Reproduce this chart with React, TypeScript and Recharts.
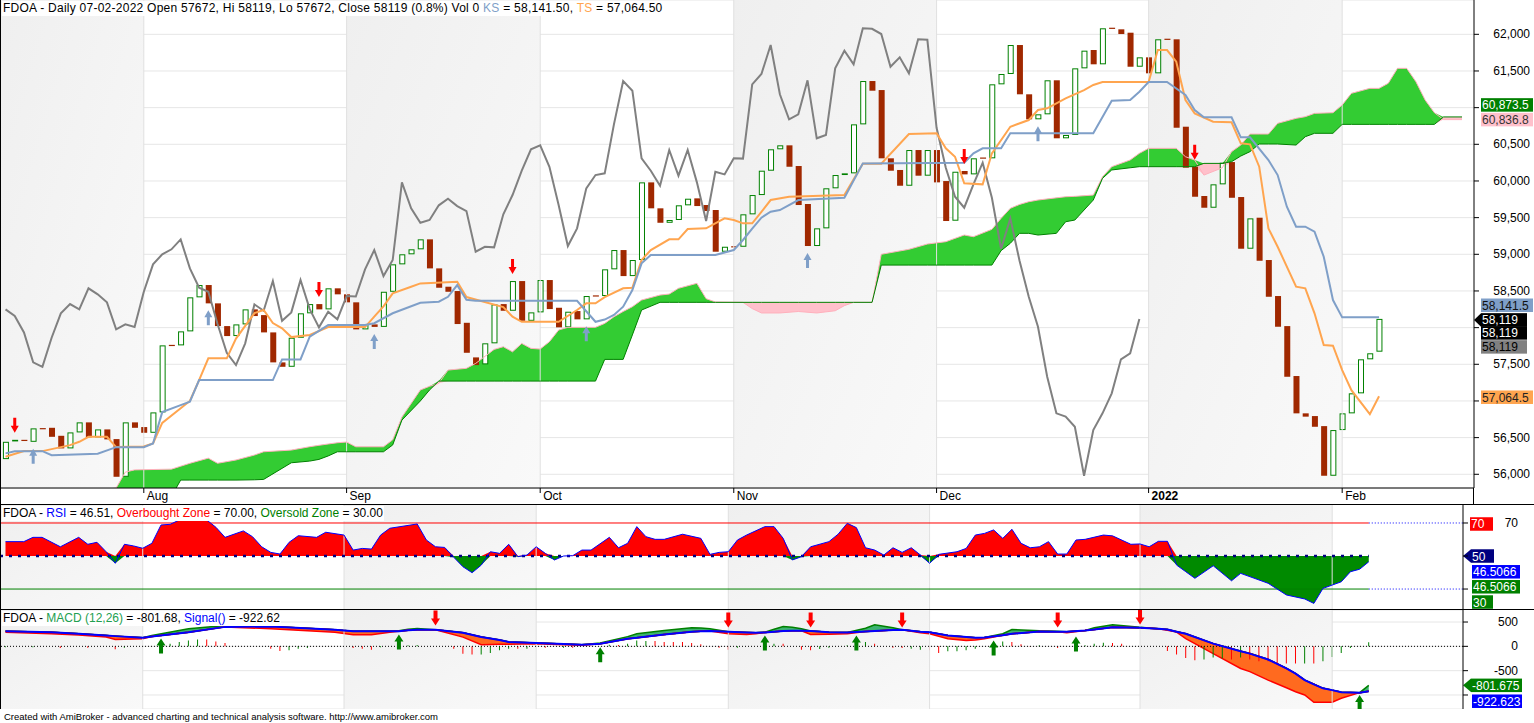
import React from 'react';
import {
  ComposedChart, Bar, Line, Area, Scatter, XAxis, YAxis, CartesianGrid,
  ReferenceArea, ReferenceLine, Cell,
} from 'recharts';

// ── Bars / calendar ────────────────────────────────────────────────────────────
const X_DOMAIN: [number, number] = [-0.6, 159.3];
const MONTH_TICKS = [15, 37, 58, 79, 101, 124, 145];
const MONTH_LABELS = ['Aug', 'Sep', 'Oct', 'Nov', 'Dec', '2022', 'Feb'];
const SHADED: [number, number][] = [[-0.6, 15], [37, 58], [79, 101], [124, 145]];

// ── Price (one value per bar, Jul 12 2021 → Feb 07 2022) ───────────────────────
const opens = [
  56207, 56450, 56470, 56443, 56630, 56634, 56525, 56353, 56571, 56708,
  56503, 56612, 56480, 55966, 56708, 56644, 56566, 56844, 57765, 57758,
  57949, 58413, 58581, 58331, 58021, 57885, 58044, 58249, 58171, 57935,
  57526, 57466, 57862, 58195, 58321, 58249, 58536, 58454, 58345, 57976,
  58044, 58010, 58489, 58863, 59000, 59068, 59204, 58808, 58558, 58499,
  58066, 57594, 57499, 57786, 58321, 58230, 58635, 58093, 58208, 58649,
  58271, 58004, 58226, 58113, 58440, 58431, 58795, 59058, 58703, 58922,
  59981, 59627, 59430, 59468, 59668, 59763, 59672, 59604, 59035, 59110,
  59103, 59545, 59808, 60140, 60432, 60486, 60204, 59686, 59113, 59354,
  59900, 60081, 60104, 60772, 61363, 61240, 60309, 60150, 59935, 60422,
  60072, 60422, 59999, 59458, 60136, 60090, 60320, 60309, 61318, 61459,
  61854, 61182, 60841, 60909, 61373, 60582, 60627, 61536, 61786, 61591,
  62090, 62068, 62022, 61558, 61686, 61468, 61940, 61932, 60740, 60195,
  59795, 59635, 59954, 60258, 59781, 59076, 59499, 58922, 58431, 58021,
  57340, 56831, 56794, 56657, 55980, 56603, 56831, 57104, 57568, 57672,
];
const closes = [
  56443, 56470, 56455, 56626, 56615, 56511, 56353, 56571, 56708, 56503,
  56612, 56476, 55966, 56708, 56634, 56566, 56844, 57758, 57750, 57949,
  58413, 58581, 58331, 58021, 57885, 58044, 58249, 58158, 57935, 57526,
  57466, 57862, 58195, 58321, 58249, 58536, 58454, 58345, 57976, 58044,
  58010, 58489, 58863, 59000, 59068, 59204, 58808, 58544, 58489, 58049,
  57657, 57489, 57786, 58317, 58230, 58635, 58093, 58208, 58649, 58253,
  58004, 58217, 58113, 58431, 58425, 58795, 59058, 58703, 58922, 59981,
  59627, 59430, 59468, 59668, 59758, 59658, 59590, 59035, 59103, 59095,
  59545, 59808, 60140, 60432, 60486, 60194, 59672, 59113, 59354, 59900,
  60081, 60104, 60772, 61363, 61231, 60309, 60140, 59935, 60422, 60072,
  60422, 59981, 59454, 60126, 60090, 60309, 60305, 61318, 61459, 61854,
  61182, 60841, 60909, 61373, 60582, 60627, 61536, 61777, 61591, 62082,
  62075, 62004, 61558, 61686, 61468, 61932, 61925, 60726, 60181, 59785,
  59635, 59954, 60249, 59771, 59076, 59490, 58912, 58421, 58012, 57330,
  56831, 56786, 56648, 55980, 56603, 56831, 57104, 57568, 57650, 58119,
];

// Tenkan-sen (TS) and Kijun-sen (KS) read at their turning points: [bar, value]
const tenkan: [number, number][] = [
  [0, 56239], [2, 56316], [4, 56316], [7, 56398], [8, 56443], [9, 56511], [11, 56511], [12, 56371],
  [15, 56380], [16, 56420], [17, 56700], [19, 56900], [20, 57000], [21, 57285], [22, 57581], [24, 57581],
  [25, 57850], [27, 58198], [28, 58240], [29, 58062], [30, 57990], [31, 57871], [33, 57899], [35, 58008],
  [39, 58008], [40, 58150], [41, 58290], [42, 58468], [44, 58557], [45, 58603], [49, 58626], [50, 58417],
  [54, 58280], [55, 58149], [56, 58080], [60, 58080], [62, 58240], [63, 58331], [64, 58331], [65, 58417],
  [67, 58536], [68, 58544], [69, 58922], [70, 59058], [72, 59204], [73, 59204], [74, 59345], [76, 59354],
  [78, 59490], [79, 59467], [80, 59422], [81, 59422], [82, 59580], [83, 59740], [85, 59785], [91, 59808],
  [93, 60236], [95, 60236], [98, 60640], [101, 60650], [102, 60445], [103, 60331], [104, 59968], [106, 59954],
  [107, 60377], [109, 60740], [111, 60831], [112, 60968], [113, 60991], [115, 61127], [117, 61240], [118, 61309],
  [119, 61350], [124, 61350], [125, 61786], [126, 61786], [127, 61627], [128, 61104], [129, 60922], [131, 60808],
  [133, 60800], [134, 60513], [135, 60500], [136, 60195], [137, 59354], [138, 59103], [140, 58558], [141, 58536],
  [142, 58195], [143, 57762], [144, 57753], [145, 57421], [146, 57148], [148, 56821], [149, 57064.5],
];
const kijun: [number, number][] = [
  [0, 56285], [1, 56315], [4, 56315], [5, 56260], [10, 56280], [12, 56370], [15, 56370], [16, 56420],
  [17, 56848], [19, 56944], [20, 56990], [21, 57285], [29, 57285], [30, 57567], [32, 57567], [33, 57876],
  [35, 58035], [39, 58035], [40, 58060], [42, 58196], [45, 58340], [47, 58354], [48, 58420], [49, 58580],
  [50, 58380], [51, 58365], [62, 58365], [64, 58080], [65, 58110], [66, 58172], [67, 58285], [68, 58512],
  [69, 58877], [70, 58990], [77, 58990], [79, 59058], [80, 59195], [81, 59350], [82, 59500], [83, 59580],
  [84, 59604], [86, 59740], [91, 59771], [93, 60240], [104, 60249], [105, 60377], [106, 60445], [108, 60445],
  [109, 60650], [118, 60650], [120, 61094], [122, 61104], [123, 61217], [124, 61350], [126, 61350], [128, 61172],
  [129, 60968], [130, 60868], [133, 60868], [134, 60595], [135, 60595], [137, 60286], [138, 60081], [139, 59649],
  [140, 59376], [141, 59376], [142, 59308], [143, 58967], [144, 58376], [145, 58140], [149, 58141.5],
];
// Cloud: [bar, senkou span A, senkou span B]
const cloud: [number, number, number][] = [
  [0, 55600, 55500], [12, 55813, 55600], [13, 56030, 55650], [14, 56060, 55680], [18, 56070, 55700],
  [19, 56110, 55921], [20, 56150, 55921], [22, 56220, 55921], [23, 56150, 55921], [25, 56195, 55921],
  [27, 56262, 55925], [28, 56307, 55930], [31, 56330, 56157], [33, 56376, 56180], [34, 56395, 56203],
  [35, 56413, 56250], [36, 56430, 56307], [37, 56440, 56307], [38, 56375, 56307], [41, 56375, 56307],
  [42, 56470, 56400], [43, 56780, 56739], [45, 57150, 57000], [46, 57200, 57150], [47, 57240, 57271],
  [48, 57421, 57271], [50, 57445, 57271], [51, 57512, 57271], [53, 57703, 57271], [54, 57740, 57271],
  [55, 57670, 57271], [56, 57785, 57271], [57, 57717, 57271], [58, 57708, 57271], [59, 57808, 57271],
  [60, 57967, 57271], [61, 58004, 57271], [64, 58004, 57271], [65, 58058, 57567], [66, 58148, 57567],
  [67, 58220, 57567], [68, 58285, 57900], [69, 58376, 58240], [71, 58444, 58345], [72, 58458, 58345],
  [73, 58536, 58345], [75, 58604, 58345], [76, 58395, 58345], [77, 58350, 58345], [80, 58345, 58345],
  [81, 58260, 58345], [82, 58200, 58345], [84, 58200, 58345], [86, 58220, 58345], [88, 58200, 58345],
  [90, 58230, 58345], [91, 58300, 58345], [92, 58345, 58345], [94, 58345, 58345], [95, 59000, 58853],
  [98, 59068, 58853], [100, 59140, 58853], [102, 59172, 58853], [104, 59263, 58853], [105, 59240, 58853],
  [107, 59340, 58853], [108, 59490, 59050], [109, 59627, 59150], [110, 59680, 59286], [111, 59717, 59286],
  [112, 59740, 59263], [114, 59770, 59286], [115, 59785, 59444], [116, 59790, 59467], [118, 59808, 59740],
  [119, 60058, 60036], [120, 60195, 60150], [122, 60286, 60180], [123, 60377, 60195], [124, 60445, 60195],
  [127, 60445, 60195], [128, 60331, 60195], [129, 60286, 60195], [130, 60080, 60240], [132, 60180, 60240],
  [133, 60400, 60263], [134, 60490, 60340], [135, 60640, 60400], [136, 60640, 60504], [137, 60640, 60504],
  [138, 60786, 60504], [140, 60854, 60490], [141, 60877, 60604], [142, 60922, 60650], [144, 60931, 60650],
  [145, 61036, 60772], [146, 61195, 60772], [148, 61263, 60772], [149, 61263, 60772], [150, 61332, 60772],
  [151, 61536, 60772], [152, 61536, 60772], [153, 61354, 60772], [154, 61104, 60772], [155, 60931, 60772],
  [156, 60836.8, 60873.5], [158, 60836.8, 60873.5],
];
const sellBars = [1, 34, 55, 104, 129];
const buyBars = [3, 22, 40, 63, 87, 112];

// ── RSI: [bar, value] ─────────────────────────────────────────────────────────
const rsi: [number, number][] = [
  [0, 58.7], [2, 58.7], [3, 61.3], [4, 61.3], [6, 55.6], [8, 61.3], [9, 57.1], [10, 58.3], [11, 52.6],
  [12, 45.6], [13, 57.1], [14, 56.1], [15, 54.7], [16, 57.7], [17, 68.8], [18, 69.2], [19, 71.8], [22, 71.8],
  [23, 67.4], [24, 61.3], [26, 65.2], [27, 61.7], [28, 55.6], [29, 52.2], [30, 51.2], [31, 58.3], [32, 62.3],
  [34, 61.3], [35, 64.4], [37, 62.7], [38, 53.6], [39, 54.6], [40, 54.2], [41, 62.7], [42, 66.8], [45, 69.4],
  [46, 59.7], [47, 55.6], [48, 55.2], [49, 49.2], [50, 43.5], [51, 39.9], [52, 44.5], [53, 52.6], [54, 51.6],
  [55, 57.1], [56, 49.6], [57, 50.6], [58, 55.6], [59, 51.6], [60, 47.6], [61, 50], [62, 50.2], [63, 53.6],
  [64, 53.6], [66, 61.3], [67, 55], [68, 57.7], [69, 67.8], [70, 61.7], [71, 60.1], [72, 60.1], [74, 63.2],
  [76, 60.7], [77, 51], [78, 52.2], [79, 52.6], [80, 59.7], [81, 62.7], [83, 67.8], [84, 67.8], [85, 60.7],
  [86, 47.6], [87, 49.6], [88, 55.6], [90, 58.7], [91, 63.2], [92, 69.8], [93, 67.2], [94, 55], [95, 53.6],
  [96, 50.6], [97, 55], [98, 52.2], [99, 55], [100, 50.6], [101, 45.6], [102, 51], [104, 52.6], [105, 54.6],
  [106, 62.7], [107, 63.7], [108, 65.8], [109, 60.7], [110, 66.2], [111, 57.7], [112, 55], [113, 55.6],
  [114, 58.7], [115, 51.2], [116, 51.2], [117, 59.7], [118, 60.1], [120, 62.7], [121, 62.2], [123, 57.1],
  [124, 57.3], [125, 55.6], [126, 58.9], [127, 58.9], [128, 44.5], [129, 40.5], [130, 36.5], [132, 44.1],
  [134, 35], [135, 39.5], [138, 33.5], [140, 26.4], [142, 24], [143, 21.3], [144, 30.4], [146, 34.4],
  [147, 40.5], [148, 42], [149, 46.5066],
];

// ── MACD: [bar, macd, signal] ────────────────────────────────────────────────
const macd: [number, number, number][] = [
  [0, 292, 312], [5, 259, 292], [8, 235, 259], [11, 190, 224], [12, 143, 210], [15, 157, 177], [16, 224, 204],
  [20, 361, 292], [24, 430, 400], [29, 361, 408], [36, 292, 340], [38, 239, 312], [40, 239, 312], [42, 290, 312],
  [43, 320, 312], [44, 350, 330], [45, 367, 340], [47, 340, 340], [50, 190, 280], [52, 35, 190], [54, 41, 130],
  [55, 45, 88], [58, 55, 68], [61, 35, 50], [63, 20, 35], [65, 67, 55], [68, 200, 157], [69, 259, 175],
  [72, 326, 245], [75, 381, 300], [76, 375, 312], [77, 361, 315], [79, 259, 300], [81, 245, 285], [82, 260, 279],
  [83, 292, 285], [84, 350, 300], [85, 408, 315], [86, 390, 320], [87, 361, 320], [88, 245, 315], [90, 250, 290],
  [92, 259, 286], [94, 373, 305], [95, 443, 315], [96, 414, 328], [97, 380, 338], [98, 340, 340], [100, 280, 300],
  [101, 259, 290], [103, 157, 224], [105, 122, 190], [106, 130, 177], [107, 157, 180], [109, 259, 230],
  [110, 347, 259], [113, 320, 306], [115, 312, 300], [116, 279, 300], [118, 326, 326], [119, 380, 345],
  [121, 443, 394], [124, 394, 381], [126, 361, 360], [127, 330, 345], [128, 292, 300], [129, 157, 259],
  [132, -149, 55], [135, -455, -100], [136, -520, -149], [138, -694, -271], [140, -850, -455], [141, -932, -560],
  [142, -1000, -694], [143, -1149, -780], [144, -1149, -863], [145, -1149, -900], [146, -1067, -945],
  [148, -952, -952], [149, -801.675, -922.623],
];
const hist: [number, number, string][] = [
  [0, -20, 'g'], [3, -20, 'g'], [6, -34, 'r'], [9, -30, 'r'], [12, -60, 'r'], [13, -30, 'g'], [18, 55, 'g'],
  [19, 88, 'g'], [20, 122, 'g'], [21, 143, 'g'], [22, 143, 'r'], [23, 102, 'r'], [24, 68, 'r'], [29, -48, 'r'],
  [30, -96, 'r'], [31, -82, 'g'], [32, -48, 'g'], [33, -34, 'g'], [38, -34, 'r'], [39, -48, 'r'], [40, -68, 'r'],
  [41, -20, 'g'], [44, 20, 'g'], [45, 30, 'g'], [49, -48, 'r'], [50, -150, 'r'], [51, -170, 'r'], [52, -170, 'g'],
  [53, -136, 'g'], [54, -82, 'g'], [55, -48, 'g'], [56, -48, 'r'], [57, -48, 'g'], [59, -27, 'r'], [61, -27, 'g'],
  [62, -27, 'r'], [66, 34, 'g'], [67, 27, 'r'], [68, 55, 'g'], [69, 122, 'g'], [70, 109, 'g'], [71, 109, 'r'],
  [72, 88, 'r'], [73, 88, 'r'], [74, 88, 'r'], [75, 68, 'r'], [76, 41, 'r'], [78, -27, 'r'], [79, -68, 'r'],
  [80, -27, 'g'], [83, 34, 'g'], [84, 55, 'g'], [85, 55, 'r'], [87, -68, 'r'], [88, -82, 'r'], [89, -55, 'g'],
  [90, -27, 'g'], [92, 20, 'g'], [93, 68, 'g'], [94, 88, 'g'], [95, 55, 'r'], [97, -27, 'r'], [98, -34, 'r'],
  [99, -48, 'g'], [100, -68, 'g'], [101, -82, 'r'], [102, -136, 'r'], [103, -102, 'g'], [104, -102, 'g'],
  [105, -82, 'g'], [106, -48, 'g'], [108, 55, 'g'], [109, 102, 'g'], [110, 88, 'r'], [111, 41, 'r'],
  [112, -10, 'r'], [113, 20, 'g'], [115, -34, 'r'], [118, 20, 'g'], [119, 55, 'g'], [120, 75, 'g'], [121, 68, 'r'],
  [122, 55, 'r'], [127, -96, 'r'], [128, -170, 'r'], [129, -238, 'r'], [130, -286, 'r'], [131, -272, 'g'],
  [132, -231, 'g'], [133, -252, 'g'], [134, -272, 'r'], [135, -231, 'g'], [136, -272, 'r'], [137, -306, 'r'],
  [138, -306, 'r'], [139, -354, 'r'], [140, -354, 'r'], [141, -354, 'r'], [142, -354, 'g'], [143, -354, 'r'],
  [144, -306, 'g'], [145, -218, 'g'], [146, -136, 'g'], [147, -34, 'g'], [149, 82, 'g'],
];
const macdBuys: [number, number][] = [[17, 163], [43, 245], [65, -20], [83, 224], [93, 224], [108, 122], [117, 204], [148, -1000]];
const macdSells: [number, number][] = [[47, 428], [79, 388], [88, 388], [98, 388], [115, 388], [124, 449]];

const PRICE_TICKS = [56000, 56500, 57000, 57500, 58000, 58500, 59000, 59500, 60000, 60500, 61000, 61500, 62000];

// ── Colours ───────────────────────────────────────────────────────────────────
const UP = '#008000';
const DOWN = '#a02800';
const TS_COL = '#ffa54f';
const KS_COL = '#7f9fc8';
const CHIKOU = '#808080';
const CLOUD_UP = '#33cc33';
const CLOUD_DN = '#ffc0cb';
const GRID = '#e6e6e6';
const SEP = '#e0e0e0';

// ── Derived rows ──────────────────────────────────────────────────────────────
const candleRows = opens.map((o, i) => ({ i, open: o, close: closes[i] }));
const chikouRows = closes.slice(26).map((c, i) => ({ i, v: c }));
const tenkanRows = tenkan.map(([i, v]) => ({ i, v }));
const kijunRows = kijun.map(([i, v]) => ({ i, v }));
const cloudRows = cloud.map(([i, a, b]) => ({ i, a, b }));
const rsiRows = rsi.map(([i, v]) => ({ i, v }));
const macdRows = macd.map(([i, m, s]) => ({ i, m, s }));
const histRows = hist.map(([i, v, c]) => ({ i, v, c }));
const sellRows = sellBars.map((i) => ({ i, v: Math.max(opens[i], closes[i]) }));
const buyRows = buyBars.map((i) => ({ i, v: Math.min(opens[i], closes[i]) }));
const macdBuyRows = macdBuys.map(([i, v]) => ({ i, v }));
const macdSellRows = macdSells.map(([i, v]) => ({ i, v }));

const fmt1 = (v: number) => v.toLocaleString('en-US', { maximumFractionDigits: 1 });
const lastCloud = cloudRows[cloudRows.length - 1];
const lastKijun = kijunRows[kijunRows.length - 1].v;
const lastTenkan = tenkanRows[tenkanRows.length - 1].v;
const lastClose = closes[closes.length - 1];
const lastRsi = rsiRows[rsiRows.length - 1].v;
const lastMacd = macdRows[macdRows.length - 1];

// ── Small drawing helpers ─────────────────────────────────────────────────────
function Candle(props: any) {
  const { x, y, width, height, payload } = props;
  if (x == null || payload == null) return null;
  const top = Math.min(y, y + height);
  const h = Math.max(Math.abs(height), 1.2);
  if (payload.close >= payload.open) {
    return <rect x={x + 0.5} y={top + 0.5} width={width - 1} height={Math.max(h - 1, 0.6)} fill="#fff" stroke={UP} strokeWidth={1} />;
  }
  return <rect x={x} y={top} width={width} height={h} fill={DOWN} />;
}

function Arrow(props: any) {
  const { cx, cy, color, dir, gap = 0, len = 15, head = 7, hw = 4, sw = 1.5 } = props;
  if (cx == null || cy == null) return null;
  const s = dir === 'down' ? -1 : 1;
  const tip = cy + s * gap;
  const pts = [
    [cx, tip], [cx + hw, tip + s * head], [cx + sw, tip + s * head], [cx + sw, tip + s * len],
    [cx - sw, tip + s * len], [cx - sw, tip + s * head], [cx - hw, tip + s * head],
  ];
  return <polygon points={pts.map((p) => p.join(',')).join(' ')} fill={color} />;
}

function MonthTick(props: any) {
  const { x, y, payload } = props;
  const label = MONTH_LABELS[MONTH_TICKS.indexOf(payload.value)];
  return (
    <g>
      <line x1={x} x2={x} y1={y} y2={y + 5} stroke="#000" />
      <text x={x + 3} y={y + 12} fontSize={12} fill="#000" fontWeight={label === '2022' ? 'bold' : 'normal'}>{label}</text>
    </g>
  );
}

// values whose labels sit under a value tag are not written
function AxisTick(props: any) {
  const { x, y, payload, shift, format, covered = [] } = props;
  if (covered.includes(payload.value)) return null;
  return (
    <text x={x + shift} y={y + 4} textAnchor="end" fontSize={12} fill="#000">
      {format ? format(payload.value) : payload.value}
    </text>
  );
}

function Tag(props: any) {
  const { viewBox, text, bg, fg, dy = 0, w, arrow, gap = 7 } = props;
  if (!viewBox) return null;
  const x0 = viewBox.x + viewBox.width + gap;
  const cy = viewBox.y + dy;
  const h = 13.5;
  return (
    <g>
      {arrow && <polygon points={`${x0 - gap},${cy} ${x0},${cy - h / 2} ${x0},${cy + h / 2}`} fill={bg} />}
      <rect x={x0} y={cy - h / 2} width={w} height={h} fill={bg} />
      <text x={x0 + 1} y={cy + 4.5} fontSize={12} fill={fg}>{text}</text>
    </g>
  );
}

function Backdrop(id: string) {
  return [
    <defs key="defs">
      <linearGradient id={id} x1="0" y1="0" x2="1" y2="1">
        <stop offset="0%" stopColor="#efefef" />
        <stop offset="100%" stopColor="#f9f9f9" />
      </linearGradient>
    </defs>,
    ...SHADED.map(([a, b]) => (
      <ReferenceArea key={`sh${a}`} x1={a} x2={b} fill={`url(#${id})`} fillOpacity={1} stroke="none" />
    )),
  ];
}

const M0 = { top: 0, right: 0, bottom: 0, left: 0 };

export default function App() {
  return (
    <div style={{ position: 'absolute', left: 0, top: 0, width: 1534, height: 723, background: '#fff', overflow: 'hidden', fontFamily: "'Liberation Sans', Arial, sans-serif" }}>
      {/* ── price pane ── */}
      <div style={{ position: 'absolute', left: 0, top: 0 }}>
        <ComposedChart width={1534} height={505} data={candleRows} margin={M0}>
          {Backdrop('shadeMain')}
          <CartesianGrid vertical={false} stroke={GRID} />
          {MONTH_TICKS.map((t) => <ReferenceLine key={`m${t}`} x={t} stroke={SEP} />)}
          <XAxis dataKey="i" type="number" domain={X_DOMAIN} allowDataOverflow ticks={MONTH_TICKS} interval={0}
            height={17} tickLine={false} tickSize={0} tickMargin={0} axisLine={{ stroke: '#000' }} tick={<MonthTick />} />
          <YAxis orientation="right" width={60} domain={[55813, 62468]} allowDataOverflow ticks={PRICE_TICKS} interval={0}
            tickSize={5} tickMargin={2} tickLine={{ stroke: '#000' }} axisLine={{ stroke: '#000' }}
            tick={<AxisTick shift={49} covered={[61000, 58000, 57000]} format={(v: number) => v.toLocaleString('en-US')} />} />
          <Area data={cloudRows} dataKey={(r: any) => [r.b, Math.max(r.a, r.b)]} type="linear" fill={CLOUD_UP} fillOpacity={1} stroke="none" isAnimationActive={false} />
          <Area data={cloudRows} dataKey={(r: any) => [Math.min(r.a, r.b), r.b]} type="linear" fill={CLOUD_DN} fillOpacity={1} stroke="none" isAnimationActive={false} />
          <Line data={cloudRows} dataKey="a" type="linear" stroke="#ffb0bc" strokeWidth={1} dot={false} isAnimationActive={false} />
          <Line data={cloudRows} dataKey="b" type="linear" stroke={UP} strokeWidth={1} dot={false} isAnimationActive={false} />
          <Line data={chikouRows} dataKey="v" type="linear" stroke={CHIKOU} strokeWidth={2} dot={false} isAnimationActive={false} />
          <Line data={tenkanRows} dataKey="v" type="linear" stroke={TS_COL} strokeWidth={2} dot={false} isAnimationActive={false} />
          <Line data={kijunRows} dataKey="v" type="linear" stroke={KS_COL} strokeWidth={2} dot={false} isAnimationActive={false} />
          <Bar dataKey={(r: any) => [Math.min(r.open, r.close), Math.max(r.open, r.close)]} barSize={6} shape={<Candle />} isAnimationActive={false} />
          <Scatter data={sellRows} dataKey="v" shape={<Arrow dir="down" color="#ff0000" gap={7} />} isAnimationActive={false} />
          <Scatter data={buyRows} dataKey="v" shape={<Arrow dir="up" color={KS_COL} gap={7} />} isAnimationActive={false} />
          <ReferenceLine y={lastCloud.b} stroke="none" label={<Tag text={fmt1(lastCloud.b)} bg="#008000" fg="#fff" dy={-12} w={52} />} />
          <ReferenceLine y={lastCloud.a} stroke="none" label={<Tag text={fmt1(lastCloud.a)} bg={CLOUD_DN} fg="#333" dy={0} w={52} />} />
          <ReferenceLine y={lastKijun} stroke="none" label={<Tag text={fmt1(lastKijun)} bg={KS_COL} fg="#111" dy={-12} w={52} />} />
          <ReferenceLine y={lastClose} stroke="none" label={<Tag text={fmt1(lastClose)} bg="#000" fg="#fff" dy={1} w={46} arrow />} />
          <ReferenceLine y={lastClose + 0.01} stroke="none" label={<Tag text={fmt1(lastClose)} bg="#000" fg="#fff" dy={14} w={46} />} />
          <ReferenceLine y={lastClose + 0.02} stroke="none" label={<Tag text={fmt1(lastClose)} bg={CHIKOU} fg="#000" dy={28} w={46} />} />
          <ReferenceLine y={lastTenkan} stroke="none" label={<Tag text={fmt1(lastTenkan)} bg={TS_COL} fg="#222" dy={1} w={52} />} />
        </ComposedChart>
      </div>

      {/* ── RSI pane ── */}
      <div style={{ position: 'absolute', left: 0, top: 505 }}>
        <ComposedChart width={1534} height={105} data={rsiRows} margin={M0}>
          {Backdrop('shadeRsi')}
          {MONTH_TICKS.map((t) => <ReferenceLine key={`m${t}`} x={t} stroke={SEP} />)}
          <XAxis dataKey="i" type="number" domain={X_DOMAIN} allowDataOverflow hide />
          <YAxis orientation="right" width={71} domain={[17.3, 80.9]} allowDataOverflow ticks={[30, 50, 70]} interval={0}
            tickSize={5} tickMargin={2} tickLine={{ stroke: '#000' }} axisLine={{ stroke: '#000' }} tick={<AxisTick shift={48} covered={[30, 50]} />} />
          <Area dataKey={(r: any) => [50, Math.max(r.v, 50)]} type="linear" fill="#ff0000" fillOpacity={1} stroke="none" isAnimationActive={false} />
          <Area dataKey={(r: any) => [Math.min(r.v, 50), 50]} type="linear" fill="#008a00" fillOpacity={1} stroke="none" isAnimationActive={false} />
          <ReferenceLine segment={[{ x: X_DOMAIN[0], y: 70 }, { x: 149, y: 70 }]} stroke="#ff0000" />
          <ReferenceLine segment={[{ x: 149, y: 70 }, { x: X_DOMAIN[1], y: 70 }]} stroke="#0000ff" strokeDasharray="1 2" />
          <ReferenceLine segment={[{ x: X_DOMAIN[0], y: 30 }, { x: 149, y: 30 }]} stroke="#008000" />
          <ReferenceLine segment={[{ x: 149, y: 30 }, { x: X_DOMAIN[1], y: 30 }]} stroke="#0000ff" strokeDasharray="1 2" />
          <ReferenceLine segment={[{ x: X_DOMAIN[0], y: 50 }, { x: 149, y: 50 }]} stroke="#000080" strokeWidth={2.5} strokeDasharray="3 6" />
          <Line dataKey="v" type="linear" stroke="#0000ff" strokeWidth={1} dot={false} isAnimationActive={false} />
          <ReferenceLine y={70} stroke="none" label={<Tag text="70" bg="#ff0000" fg="#fff" dy={1} w={23} />} />
          <ReferenceLine y={50} stroke="none" label={<Tag text="50" bg="#000080" fg="#fff" dy={0} w={23} gap={8} arrow />} />
          <ReferenceLine y={lastRsi} stroke="none" label={<Tag text={String(lastRsi)} bg="#0000ff" fg="#fff" dy={10} w={48} gap={9} />} />
          <ReferenceLine y={lastRsi + 0.001} stroke="none" label={<Tag text={String(lastRsi)} bg="#008000" fg="#fff" dy={25} w={48} gap={9} />} />
          <ReferenceLine y={30} stroke="none" label={<Tag text="30" bg="#008000" fg="#fff" dy={13} w={21} gap={9} />} />
        </ComposedChart>
      </div>

      {/* ── MACD pane ── */}
      <div style={{ position: 'absolute', left: 0, top: 610 }}>
        <ComposedChart width={1534} height={99} data={histRows} margin={M0}>
          {Backdrop('shadeMacd')}
          <CartesianGrid vertical={false} stroke={GRID} />
          {MONTH_TICKS.map((t) => <ReferenceLine key={`m${t}`} x={t} stroke={SEP} />)}
          <XAxis dataKey="i" type="number" domain={X_DOMAIN} allowDataOverflow hide />
          <YAxis orientation="right" width={71} domain={[-1288, 747]} allowDataOverflow ticks={[-1000, -500, 0, 500]} interval={0}
            tickSize={5} tickMargin={2} tickLine={{ stroke: '#000' }} axisLine={{ stroke: '#000' }} tick={<AxisTick shift={48} covered={[-1000]} />} />
          <Bar dataKey="v" barSize={1} isAnimationActive={false}>
            {histRows.map((r) => <Cell key={r.i} fill={r.c === 'g' ? '#008000' : '#ff0000'} />)}
          </Bar>
          <ReferenceLine y={0} stroke="#000" strokeDasharray="1 2" />
          <Area data={macdRows} dataKey={(r: any) => [r.s, Math.max(r.m, r.s)]} type="linear" fill="#3cb371" fillOpacity={1} stroke="#008000" strokeWidth={1.5} isAnimationActive={false} />
          <Area data={macdRows} dataKey={(r: any) => [Math.min(r.m, r.s), r.s]} type="linear" fill="#ff6a1f" fillOpacity={1} stroke="#ff0000" strokeWidth={1.5} isAnimationActive={false} />
          <Line data={macdRows} dataKey="s" type="linear" stroke="#0000ff" strokeWidth={2} dot={false} isAnimationActive={false} />
          <Scatter data={macdBuyRows} dataKey="v" shape={<Arrow dir="up" color="#008000" hw={4.5} sw={2} />} isAnimationActive={false} />
          <Scatter data={macdSellRows} dataKey="v" shape={<Arrow dir="down" color="#ff0000" hw={4.5} sw={2} />} isAnimationActive={false} />
          <ReferenceLine y={lastMacd.m} stroke="none" label={<Tag text={String(lastMacd.m)} bg="#008000" fg="#fff" dy={0} w={51} gap={8} arrow />} />
          <ReferenceLine y={lastMacd.s} stroke="none" label={<Tag text={String(lastMacd.s)} bg="#0000ff" fg="#fff" dy={10} w={50} gap={9} />} />
        </ComposedChart>
      </div>

      {/* ── frame lines ── */}
      <div style={{ position: 'absolute', left: 0, top: 0, width: 1, height: 709, background: '#000' }} />
      <div style={{ position: 'absolute', left: 1473, top: 488, width: 1, height: 17, background: '#000' }} />
      <div style={{ position: 'absolute', left: 0, top: 504, width: 1534, height: 1, background: '#000' }} />
      <div style={{ position: 'absolute', left: 0, top: 609, width: 1534, height: 1, background: '#000' }} />

      {/* ── titles ── */}
      <div style={{ position: 'absolute', left: 2, top: 1, fontSize: 12, letterSpacing: 0.25, lineHeight: '15px', background: '#fff', padding: '0 1px', whiteSpace: 'nowrap' }}>
        FDOA - Daily 07-02-2022 Open 57672, Hi 58119, Lo 57672, Close 58119 (0.8%) Vol 0 <span style={{ color: KS_COL }}>KS</span> = 58,141.50, <span style={{ color: TS_COL }}>TS</span> = 57,064.50
      </div>
      <div style={{ position: 'absolute', left: 2, top: 506, fontSize: 12, lineHeight: '15px', background: '#fff', padding: '0 1px', whiteSpace: 'nowrap' }}>
        FDOA - <span style={{ color: '#0000ff' }}>RSI</span> = 46.51, <span style={{ color: '#ff0000' }}>Overbought Zone</span> = 70.00, <span style={{ color: '#008000' }}>Oversold Zone</span> = 30.00
      </div>
      <div style={{ position: 'absolute', left: 2, top: 611, fontSize: 12, lineHeight: '15px', background: '#fff', padding: '0 1px', whiteSpace: 'nowrap' }}>
        FDOA - <span style={{ color: '#23a050' }}>MACD (12,26)</span> = -801.68, <span style={{ color: '#0000ff' }}>Signal()</span> = -922.62
      </div>
      <div style={{ position: 'absolute', left: 4, top: 711, fontSize: 9.5, lineHeight: '12px', whiteSpace: 'nowrap', color: '#000' }}>
        Created with AmiBroker - advanced charting and technical analysis software. http://www.amibroker.com
      </div>
    </div>
  );
}
